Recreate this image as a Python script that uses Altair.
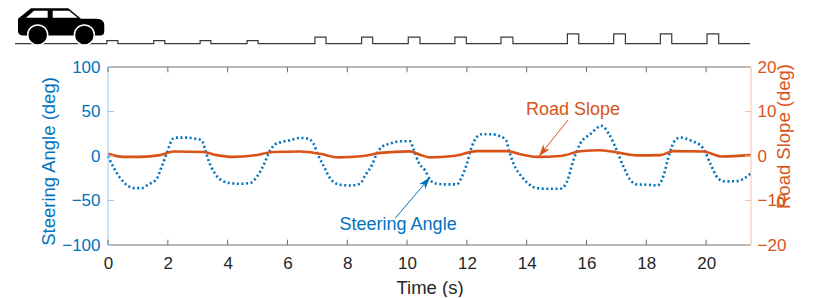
import altair as alt
import pandas as pd

FONT = "Liberation Sans"
BLUE = "#0072BD"
ORANGE = "#D95319"
GRAY = "#6e6e6e"
XMAX = 21.5

steer_t = [0.00,0.18,0.40,0.68,0.90,1.13,1.35,1.63,1.79,1.98,2.13,2.24,2.63,2.91,3.13,3.24,3.36,3.58,3.80,4.08,4.41,4.75,4.97,5.20,5.42,5.59,5.81,6.09,6.42,6.70,6.87,7.03,7.20,7.48,7.76,8.09,8.43,8.60,8.82,8.99,9.15,9.43,9.77,10.10,10.21,10.38,10.60,10.77,10.99,11.33,11.66,11.83,12.00,12.16,12.33,12.50,12.83,13.11,13.31,13.42,13.56,13.89,14.34,14.67,15.12,15.34,15.56,15.79,16.12,16.51,16.74,17.01,17.24,17.46,17.68,18.02,18.37,18.58,18.74,18.96,19.13,19.47,19.91,20.14,20.41,20.64,21.03,21.31,21.50]
steer_v = [0,-12.4,-24.4,-33.8,-36.1,-36.1,-32,-25.5,-12.4,4.5,17.7,20.7,20.7,19.5,17.7,8.3,-4.9,-19.9,-27.4,-30.4,-31.2,-30.4,-23.9,-10.5,6.4,13.1,15.8,17.7,20.3,19.5,13.9,0.8,-10.5,-27.4,-32.3,-33.1,-31.2,-21.8,-10.5,2.6,10.1,13.9,16.5,16.5,8.3,-6.8,-16.2,-26.7,-31.2,-31.9,-31.9,-23.7,-8.6,10.1,21.4,24.4,24.4,22.2,17.7,4.5,-8.6,-25.5,-36.1,-36.8,-36.8,-29.3,-4.9,13.9,24.4,33.8,25.2,6.4,-12.4,-26.7,-31.9,-32.3,-33.1,-21.8,-1.1,17.7,20.7,17.7,8.3,-8.6,-25.5,-28.5,-28.2,-24.4,-19.2]

slope_t = [0.00,0.51,1.07,1.74,2.19,3.19,3.63,4.19,4.86,5.53,6.42,7.09,7.70,8.54,9.10,10.10,10.43,10.75,11.55,12.33,13.33,13.78,14.34,15.12,15.79,16.45,17.12,17.68,18.46,18.91,19.91,20.52,21.50]
slope_v = [0.5,-0.2,-0.2,0.2,1.0,0.9,0.2,-0.2,0.1,0.9,1.0,0.5,-0.3,0.0,0.7,1.05,0.3,-0.3,0.0,1.1,1.1,0.4,-0.2,0.0,1.05,1.3,0.7,0.15,0.2,1.1,1.0,-0.1,0.2]

# road profile: bump start / end time and height
bump_start = [-0.04,1.53,3.08,4.65,6.92,8.48,10.04,11.60,13.14,15.36,16.91,18.47,20.03]
bump_end = [0.33,1.90,3.44,5.02,7.29,8.85,10.43,11.98,13.54,15.74,17.30,18.85,20.42]
bump_h = [3,3,3,3,6.4,6.4,6.4,6.4,6.4,9.7,9.7,9.7,9.7]
road_from, road_to = -3.11, 21.47

x_ticks = [0,2,4,6,8,10,12,14,16,18,20]
left_ticks = [-100,-50,0,50,100]
right_ticks = [-20,-10,0,10,20]

road_t, road_e = [road_from], [0]
for a, b, h in zip(bump_start, bump_end, bump_h):
    road_t += [a, a, b, b]
    road_e += [0, h, h, 0]
road_t.append(road_to)
road_e.append(0)

xs = alt.Scale(domain=[0, XMAX], nice=False, zero=False)
ys = alt.Scale(domain=[-100, 100], nice=False, zero=False)
rs = alt.Scale(domain=[-20, 20], nice=False, zero=False)
es = alt.Scale(domain=[-200.8, -23.3], nice=False, zero=False)
X = lambda f="t", **k: alt.X(f + ":Q", scale=xs, **k)
Y = lambda f="v": alt.Y(f + ":Q", scale=ys, axis=None)
E = lambda f="e": alt.Y(f + ":Q", scale=es, axis=None)

x_axis = alt.Axis(values=x_ticks, title="Time (s)", format="d", grid=False, domain=False, ticks=False, labelFlush=False,
                  labelFont=FONT, labelFontSize=17, labelColor="#262626", labelPadding=10,
                  titleFont=FONT, titleFontSize=18.5, titleFontWeight="normal", titleColor="#262626", titlePadding=7)

steer_df = pd.DataFrame({"t": steer_t, "v": steer_v})
slope_df = pd.DataFrame({"t": slope_t, "v": slope_v})
road_df = pd.DataFrame({"t": road_t, "e": road_e})

steer = alt.Chart(steer_df).mark_line(color=BLUE, strokeWidth=2.6, strokeDash=[2, 2.6], interpolate="monotone").encode(
    x=X(axis=x_axis),
    y=alt.Y("v:Q", scale=ys, axis=alt.Axis(values=left_ticks, title="Steering Angle (deg)", grid=False, domain=False, ticks=False, labelFlush=False,
            labelFont=FONT, labelFontSize=17, labelColor=BLUE, labelPadding=8,
            titleFont=FONT, titleFontSize=18.5, titleFontWeight="normal", titleColor=BLUE, titlePadding=3, titleY=94)))

slope = alt.Chart(slope_df).mark_line(color=ORANGE, strokeWidth=2.6, interpolate="monotone").encode(
    x=X(),
    y=alt.Y("v:Q", scale=rs, axis=alt.Axis(orient="right", values=right_ticks, title="Road Slope (deg)", grid=False, domain=False, ticks=False, labelFlush=False,
            labelFont=FONT, labelFontSize=17, labelColor=ORANGE, labelPadding=6,
            titleFont=FONT, titleFontSize=18.5, titleFontWeight="normal", titleColor=ORANGE, titlePadding=8, titleAngle=270, titleBaseline="bottom", titleY=69)))

# frame and inward ticks
def vrule(x, y, y2, color):
    d = pd.DataFrame({"t": x, "v": y, "v2": y2})
    return alt.Chart(d).mark_rule(color=color, strokeWidth=1).encode(x=X(), y=Y(), y2="v2:Q")

def hrule(x, x2, y, color, op=1):
    d = pd.DataFrame({"t": x, "t2": x2, "v": y})
    return alt.Chart(d).mark_rule(color=color, strokeWidth=1, opacity=op).encode(x=X(), x2="t2:Q", y=Y())

frame = [
    hrule([0, 0], [XMAX, XMAX], [-100, 100], GRAY),
    vrule([0], [-100], [100], "#9cc9ea"),
    vrule([XMAX], [-100], [100], "#f3c3ad"),
    vrule(x_ticks, [-100] * 11, [-94] * 11, GRAY),
    vrule(x_ticks, [100] * 11, [94] * 11, GRAY),
    hrule([0] * 5, [0.2] * 5, left_ticks, "#9cc9ea"),
    hrule([XMAX - 0.2] * 5, [XMAX] * 5, left_ticks, "#f3c3ad"),
]

road = alt.Chart(road_df).mark_line(color="#3a3a3a", strokeWidth=1.2, clip=False, interpolate="linear").encode(
    x=X(), y=E(), order="i:Q").transform_window(i="row_number()")

CAR = ("M-43,-3 L-30,-13.5 L7.3,-13.5 L20,-3 L35.7,-3 Q43.3,-3 43.3,4 L43.3,9.7 Q43.3,13.7 39,13.7 "
       "L-37.7,13.7 Q-43,13.7 -43,8.7 Z "
       "M-35,-4 L-13.3,-4 L-13.3,-11 L-27,-11 Z M-8.3,-4 L16.7,-4 L8,-11 L-8.3,-11 Z")
car = alt.Chart(pd.DataFrame({"t": [-1.572], "e": [21.7]})).mark_point(
    shape=CAR, size=4, filled=True, color="black", opacity=1, clip=False).encode(x=X(), y=E())
wheels = alt.Chart(pd.DataFrame({"t": [-2.35, -0.79], "e": [8.7, 8.7]})).mark_point(
    shape="circle", size=400, filled=True, fill="black", stroke="white", strokeWidth=1.5, opacity=1, clip=False).encode(x=X(), y=E())

def note(text, t, v, color):
    return alt.Chart(pd.DataFrame({"t": [t], "v": [v], "s": [text]})).mark_text(
        font=FONT, fontSize=18, color=color, align="center", baseline="middle").encode(x=X(), y=Y(), text="s:N")

def arrow(t0, v0, t1, v1, angle, color):
    line = alt.Chart(pd.DataFrame({"t": [t0], "t2": [t1], "v": [v0], "v2": [v1]})).mark_rule(color=color, strokeWidth=1).encode(
        x=X(), x2="t2:Q", y=Y(), y2="v2:Q")
    head = alt.Chart(pd.DataFrame({"t": [t1], "v": [v1]})).mark_point(
        shape="M0,0 L4,12 L0,9 L-4,12 Z", size=4, filled=True, color=color, opacity=1, angle=angle).encode(x=X(), y=Y())
    return [line, head]

layers = [steer, slope] + frame + [road, car, wheels,
          note("Road Slope", 15.55, 51.5, ORANGE), note("Steering Angle", 9.70, -77, BLUE)]
layers += arrow(15.38, 40.3, 14.41, -0.3, 218.9, ORANGE)
layers += arrow(9.60, -70, 10.77, -24, 40.5, BLUE)

chart = alt.layer(*layers).resolve_scale(y="independent").properties(
    width=643, height=178,
    autosize=alt.AutoSizeParams(type="none"),
    padding={"left": 100, "top": 59, "right": 71, "bottom": 52},
).configure_view(stroke=None)

chart.save("out.html", embed_options={"renderer": "svg", "actions": False})
